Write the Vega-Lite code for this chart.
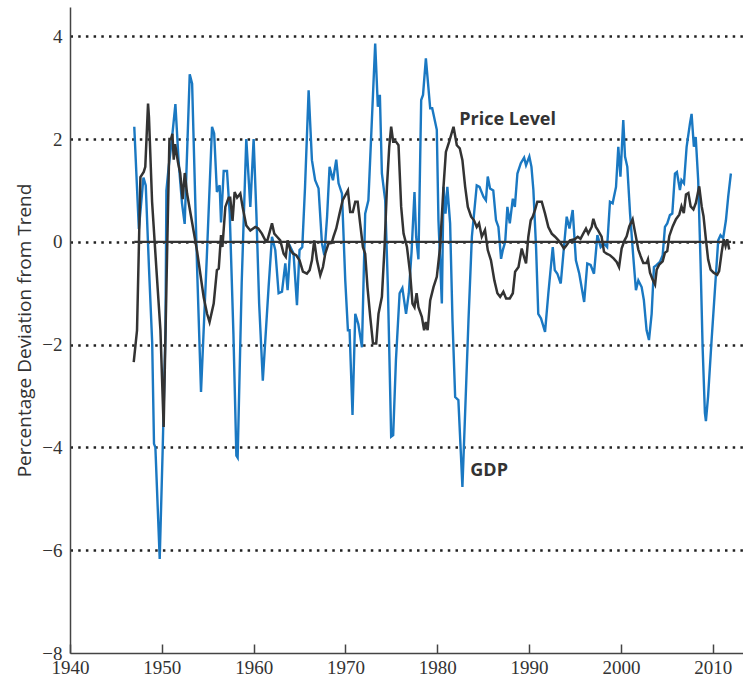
{
  "$schema": "https://vega.github.io/schema/vega-lite/v6.json",
  "autosize": {"type": "none"},
  "width": 673,
  "height": 646,
  "padding": {"left": 70, "top": 7, "right": 0, "bottom": 25},
  "background": "white",
  "config": {"view": {"stroke": null}},
  "datasets": {
    "gdp": [
      {"year": 1947.0, "value": 2.24}, {"year": 1947.5, "value": 0.25}, {"year": 1948.0, "value": 1.25}, {"year": 1948.25, "value": 1.1},
      {"year": 1948.6, "value": -0.5}, {"year": 1948.95, "value": -1.95}, {"year": 1949.15, "value": -3.93}, {"year": 1949.3, "value": -4.0},
      {"year": 1949.77, "value": -6.17}, {"year": 1950.1, "value": -4.0}, {"year": 1950.4, "value": -1.73}, {"year": 1950.5, "value": 1.0},
      {"year": 1950.75, "value": 1.46}, {"year": 1951.1, "value": 2.0}, {"year": 1951.48, "value": 2.68}, {"year": 1951.84, "value": 1.54},
      {"year": 1952.2, "value": 0.75}, {"year": 1952.49, "value": 0.35}, {"year": 1953.04, "value": 3.26}, {"year": 1953.3, "value": 3.08},
      {"year": 1953.84, "value": -0.5}, {"year": 1954.27, "value": -2.92}, {"year": 1954.9, "value": -0.3}, {"year": 1955.47, "value": 2.24},
      {"year": 1955.7, "value": 2.11}, {"year": 1956.0, "value": 0.97}, {"year": 1956.3, "value": 1.1}, {"year": 1956.45, "value": 0.38},
      {"year": 1956.74, "value": 1.38}, {"year": 1957.1, "value": 1.38}, {"year": 1957.4, "value": 0.54}, {"year": 1957.8, "value": -1.8},
      {"year": 1958.12, "value": -4.16}, {"year": 1958.26, "value": -4.2}, {"year": 1958.7, "value": -0.8}, {"year": 1959.2, "value": 2.0},
      {"year": 1959.64, "value": 0.68}, {"year": 1960.0, "value": 2.0}, {"year": 1960.3, "value": 0.55}, {"year": 1960.6, "value": -1.2},
      {"year": 1961.0, "value": -2.7}, {"year": 1961.63, "value": -0.88}, {"year": 1962.0, "value": 0.1}, {"year": 1962.36, "value": -0.16},
      {"year": 1962.72, "value": -1.0}, {"year": 1963.09, "value": -0.97}, {"year": 1963.45, "value": -0.42}, {"year": 1963.7, "value": -0.94},
      {"year": 1964.0, "value": -0.1}, {"year": 1964.35, "value": -0.23}, {"year": 1964.72, "value": -1.23}, {"year": 1965.0, "value": -0.16},
      {"year": 1965.3, "value": -0.1}, {"year": 1965.6, "value": 1.07}, {"year": 1965.99, "value": 2.95}, {"year": 1966.35, "value": 1.59},
      {"year": 1966.7, "value": 1.2}, {"year": 1967.07, "value": 1.04}, {"year": 1967.44, "value": -0.03}, {"year": 1967.7, "value": -0.26},
      {"year": 1968.0, "value": 0.49}, {"year": 1968.27, "value": 1.46}, {"year": 1968.64, "value": 1.2}, {"year": 1969.0, "value": 1.6},
      {"year": 1969.25, "value": 1.14}, {"year": 1969.62, "value": 0.94}, {"year": 1969.98, "value": -0.75}, {"year": 1970.27, "value": -1.72},
      {"year": 1970.45, "value": -1.72}, {"year": 1970.77, "value": -3.37}, {"year": 1971.07, "value": -1.4}, {"year": 1971.4, "value": -1.6},
      {"year": 1971.8, "value": -2.05}, {"year": 1972.15, "value": 0.55}, {"year": 1972.5, "value": 0.81}, {"year": 1972.88, "value": 2.37},
      {"year": 1973.24, "value": 3.86}, {"year": 1973.53, "value": 2.63}, {"year": 1973.75, "value": 2.86}, {"year": 1973.97, "value": 1.33},
      {"year": 1974.33, "value": 0.81}, {"year": 1974.62, "value": -0.87}, {"year": 1974.98, "value": -3.79}, {"year": 1975.2, "value": -3.76},
      {"year": 1975.5, "value": -2.3}, {"year": 1975.9, "value": -1.0}, {"year": 1976.2, "value": -0.9}, {"year": 1976.6, "value": -1.4},
      {"year": 1976.9, "value": -1.0}, {"year": 1977.2, "value": -0.2}, {"year": 1977.52, "value": 0.97}, {"year": 1977.7, "value": 0.1},
      {"year": 1977.95, "value": -0.34}, {"year": 1978.25, "value": 2.76}, {"year": 1978.45, "value": 2.86}, {"year": 1978.76, "value": 3.57},
      {"year": 1979.23, "value": 2.6}, {"year": 1979.45, "value": 2.6}, {"year": 1979.95, "value": 2.18}, {"year": 1980.13, "value": 0.42},
      {"year": 1980.5, "value": -1.2}, {"year": 1980.68, "value": 1.07}, {"year": 1980.9, "value": 0.55}, {"year": 1981.1, "value": 1.07},
      {"year": 1981.4, "value": 0.36}, {"year": 1981.66, "value": -1.53}, {"year": 1981.95, "value": -3.02}, {"year": 1982.3, "value": -3.08},
      {"year": 1982.74, "value": -4.77}, {"year": 1983.0, "value": -3.5}, {"year": 1983.4, "value": -1.53}, {"year": 1983.77, "value": 0.1},
      {"year": 1984.3, "value": 1.1}, {"year": 1984.6, "value": 1.07}, {"year": 1985.03, "value": 0.88}, {"year": 1985.3, "value": 0.81},
      {"year": 1985.5, "value": 1.27}, {"year": 1985.75, "value": 1.04}, {"year": 1986.1, "value": 1.0}, {"year": 1986.4, "value": 0.42},
      {"year": 1986.66, "value": 0.29}, {"year": 1986.95, "value": -0.33}, {"year": 1987.14, "value": -0.16}, {"year": 1987.4, "value": 0.0},
      {"year": 1987.64, "value": 0.68}, {"year": 1987.9, "value": 0.36}, {"year": 1988.23, "value": 0.84}, {"year": 1988.45, "value": 0.68},
      {"year": 1988.73, "value": 1.33}, {"year": 1989.1, "value": 1.53}, {"year": 1989.46, "value": 1.64}, {"year": 1989.67, "value": 1.49},
      {"year": 1990.03, "value": 1.66}, {"year": 1990.26, "value": 1.46}, {"year": 1990.47, "value": 1.01}, {"year": 1990.76, "value": -0.1},
      {"year": 1991.0, "value": -1.4}, {"year": 1991.3, "value": -1.49}, {"year": 1991.74, "value": -1.75}, {"year": 1992.1, "value": -1.0},
      {"year": 1992.58, "value": -0.1}, {"year": 1992.8, "value": -0.55}, {"year": 1993.08, "value": -0.62}, {"year": 1993.45, "value": -0.81},
      {"year": 1993.8, "value": -0.1}, {"year": 1994.1, "value": 0.49}, {"year": 1994.4, "value": 0.26}, {"year": 1994.75, "value": 0.62},
      {"year": 1995.1, "value": -0.36}, {"year": 1995.47, "value": -0.62}, {"year": 1996.0, "value": -1.17}, {"year": 1996.34, "value": -0.42},
      {"year": 1996.7, "value": -0.45}, {"year": 1997.07, "value": -0.62}, {"year": 1997.44, "value": 0.13}, {"year": 1997.8, "value": -0.1},
      {"year": 1998.16, "value": -0.03}, {"year": 1998.5, "value": -0.1}, {"year": 1998.81, "value": 0.78}, {"year": 1999.1, "value": 0.75},
      {"year": 1999.47, "value": 1.07}, {"year": 1999.72, "value": 1.85}, {"year": 1999.95, "value": 1.27}, {"year": 2000.26, "value": 2.37},
      {"year": 2000.45, "value": 1.66}, {"year": 2000.7, "value": 1.46}, {"year": 2001.0, "value": 0.55}, {"year": 2001.35, "value": -0.29},
      {"year": 2001.64, "value": -0.94}, {"year": 2001.9, "value": -0.75}, {"year": 2002.26, "value": -0.88}, {"year": 2002.5, "value": -1.13},
      {"year": 2002.8, "value": -1.72}, {"year": 2003.06, "value": -1.91}, {"year": 2003.35, "value": -1.4}, {"year": 2003.6, "value": -0.49},
      {"year": 2003.9, "value": -0.45}, {"year": 2004.25, "value": -0.39}, {"year": 2004.55, "value": -0.26}, {"year": 2004.8, "value": 0.29},
      {"year": 2005.05, "value": 0.36}, {"year": 2005.34, "value": 0.52}, {"year": 2005.6, "value": 0.55}, {"year": 2005.89, "value": 1.33},
      {"year": 2006.1, "value": 1.36}, {"year": 2006.43, "value": 1.01}, {"year": 2006.6, "value": 1.2}, {"year": 2006.87, "value": 1.14},
      {"year": 2007.16, "value": 1.85}, {"year": 2007.52, "value": 2.3}, {"year": 2007.7, "value": 2.49}, {"year": 2007.95, "value": 1.85},
      {"year": 2008.15, "value": 2.04}, {"year": 2008.42, "value": 1.2}, {"year": 2008.68, "value": -0.42}, {"year": 2008.9, "value": -2.04},
      {"year": 2009.15, "value": -3.33}, {"year": 2009.26, "value": -3.49}, {"year": 2009.5, "value": -3.0}, {"year": 2009.88, "value": -1.91},
      {"year": 2010.24, "value": -0.94}, {"year": 2010.6, "value": 0.03}, {"year": 2010.85, "value": 0.13}, {"year": 2011.14, "value": 0.07},
      {"year": 2011.44, "value": 0.42}, {"year": 2011.69, "value": 0.88}, {"year": 2011.98, "value": 1.33}
    ],
    "price": [
      {"year": 1946.94, "value": -2.34}, {"year": 1947.3, "value": -1.72}, {"year": 1947.67, "value": 1.26}, {"year": 1948.03, "value": 1.36},
      {"year": 1948.2, "value": 1.46}, {"year": 1948.5, "value": 2.69}, {"year": 1948.6, "value": 2.43}, {"year": 1948.94, "value": 0.78},
      {"year": 1949.4, "value": -0.5}, {"year": 1949.85, "value": -1.72}, {"year": 1950.2, "value": -3.6}, {"year": 1950.57, "value": -0.27},
      {"year": 1950.83, "value": 2.0}, {"year": 1951.0, "value": 2.0}, {"year": 1951.15, "value": 2.1}, {"year": 1951.3, "value": 1.6},
      {"year": 1951.45, "value": 1.9}, {"year": 1951.77, "value": 1.54}, {"year": 1952.0, "value": 1.34}, {"year": 1952.27, "value": 0.83},
      {"year": 1952.5, "value": 1.34}, {"year": 1952.75, "value": 0.94}, {"year": 1953.1, "value": 0.58}, {"year": 1953.47, "value": 0.2},
      {"year": 1953.84, "value": -0.18}, {"year": 1954.2, "value": -0.63}, {"year": 1954.56, "value": -1.08}, {"year": 1954.93, "value": -1.4},
      {"year": 1955.2, "value": -1.56}, {"year": 1955.65, "value": -1.2}, {"year": 1956.0, "value": -0.55}, {"year": 1956.2, "value": -0.52},
      {"year": 1956.45, "value": 0.13}, {"year": 1956.6, "value": -0.1}, {"year": 1956.92, "value": 0.68}, {"year": 1957.28, "value": 0.86},
      {"year": 1957.45, "value": 0.86}, {"year": 1957.7, "value": 0.41}, {"year": 1957.93, "value": 0.97}, {"year": 1958.2, "value": 0.86},
      {"year": 1958.55, "value": 0.94}, {"year": 1958.8, "value": 0.68}, {"year": 1959.2, "value": 0.32}, {"year": 1959.64, "value": 0.22},
      {"year": 1960.18, "value": 0.29}, {"year": 1960.5, "value": 0.26}, {"year": 1960.9, "value": 0.16}, {"year": 1961.27, "value": 0.03},
      {"year": 1961.5, "value": 0.03}, {"year": 1961.7, "value": 0.16}, {"year": 1962.0, "value": 0.36}, {"year": 1962.25, "value": 0.16},
      {"year": 1962.55, "value": 0.1}, {"year": 1962.9, "value": 0.03}, {"year": 1963.27, "value": -0.23}, {"year": 1963.5, "value": -0.29},
      {"year": 1963.7, "value": 0.03}, {"year": 1964.0, "value": -0.16}, {"year": 1964.3, "value": -0.23}, {"year": 1964.64, "value": -0.26},
      {"year": 1965.0, "value": -0.36}, {"year": 1965.37, "value": -0.58}, {"year": 1965.8, "value": -0.62}, {"year": 1966.1, "value": -0.55},
      {"year": 1966.35, "value": -0.36}, {"year": 1966.6, "value": 0.03}, {"year": 1966.9, "value": -0.36}, {"year": 1967.26, "value": -0.65},
      {"year": 1967.55, "value": -0.49}, {"year": 1967.8, "value": -0.23}, {"year": 1968.16, "value": -0.03}, {"year": 1968.5, "value": -0.02},
      {"year": 1968.7, "value": 0.1}, {"year": 1969.0, "value": 0.26}, {"year": 1969.36, "value": 0.55}, {"year": 1969.7, "value": 0.81},
      {"year": 1970.27, "value": 1.0}, {"year": 1970.52, "value": 0.58}, {"year": 1970.8, "value": 0.58}, {"year": 1971.07, "value": 0.78},
      {"year": 1971.33, "value": 0.78}, {"year": 1971.6, "value": 0.36}, {"year": 1971.9, "value": -0.1}, {"year": 1972.15, "value": -0.23},
      {"year": 1972.4, "value": -0.88}, {"year": 1972.7, "value": -1.46}, {"year": 1973.0, "value": -1.98}, {"year": 1973.35, "value": -1.98},
      {"year": 1973.6, "value": -1.4}, {"year": 1973.97, "value": -1.07}, {"year": 1974.26, "value": -0.1}, {"year": 1974.52, "value": 1.07},
      {"year": 1974.77, "value": 1.85}, {"year": 1974.98, "value": 2.24}, {"year": 1975.2, "value": 1.95}, {"year": 1975.5, "value": 1.95},
      {"year": 1975.78, "value": 1.88}, {"year": 1976.07, "value": 0.68}, {"year": 1976.33, "value": 0.16}, {"year": 1976.7, "value": -0.1},
      {"year": 1977.05, "value": -0.62}, {"year": 1977.3, "value": -1.2}, {"year": 1977.52, "value": -1.27}, {"year": 1977.75, "value": -1.0},
      {"year": 1977.95, "value": -1.27}, {"year": 1978.32, "value": -1.46}, {"year": 1978.57, "value": -1.72}, {"year": 1978.75, "value": -1.56},
      {"year": 1978.95, "value": -1.72}, {"year": 1979.23, "value": -1.14}, {"year": 1979.59, "value": -0.88}, {"year": 1979.95, "value": -0.68},
      {"year": 1980.31, "value": -0.1}, {"year": 1980.68, "value": 1.07}, {"year": 1980.94, "value": 1.75}, {"year": 1981.3, "value": 1.95},
      {"year": 1981.77, "value": 2.24}, {"year": 1982.13, "value": 1.88}, {"year": 1982.45, "value": 1.82}, {"year": 1982.74, "value": 1.59},
      {"year": 1983.04, "value": 1.07}, {"year": 1983.33, "value": 0.68}, {"year": 1983.69, "value": 0.49}, {"year": 1984.0, "value": 0.42},
      {"year": 1984.3, "value": 0.29}, {"year": 1984.55, "value": 0.36}, {"year": 1984.85, "value": 0.1}, {"year": 1985.2, "value": 0.23},
      {"year": 1985.5, "value": -0.16}, {"year": 1985.85, "value": -0.36}, {"year": 1986.22, "value": -0.75}, {"year": 1986.55, "value": -1.0},
      {"year": 1986.85, "value": -1.07}, {"year": 1987.2, "value": -0.97}, {"year": 1987.5, "value": -1.1}, {"year": 1987.9, "value": -1.1},
      {"year": 1988.23, "value": -1.0}, {"year": 1988.48, "value": -0.58}, {"year": 1988.85, "value": -0.49}, {"year": 1989.2, "value": -0.13},
      {"year": 1989.45, "value": -0.29}, {"year": 1989.67, "value": -0.42}, {"year": 1989.92, "value": 0.1}, {"year": 1990.18, "value": 0.42},
      {"year": 1990.4, "value": 0.49}, {"year": 1990.65, "value": 0.62}, {"year": 1990.9, "value": 0.78}, {"year": 1991.38, "value": 0.78},
      {"year": 1991.74, "value": 0.55}, {"year": 1992.1, "value": 0.29}, {"year": 1992.47, "value": 0.16}, {"year": 1992.83, "value": 0.1},
      {"year": 1993.2, "value": 0.03}, {"year": 1993.45, "value": -0.03}, {"year": 1993.8, "value": -0.13}, {"year": 1994.1, "value": -0.06},
      {"year": 1994.45, "value": 0.03}, {"year": 1994.97, "value": 0.05}, {"year": 1995.3, "value": 0.1}, {"year": 1995.6, "value": 0.06},
      {"year": 1995.9, "value": 0.16}, {"year": 1996.2, "value": 0.26}, {"year": 1996.45, "value": 0.16}, {"year": 1996.82, "value": 0.29},
      {"year": 1997.0, "value": 0.45}, {"year": 1997.27, "value": 0.29}, {"year": 1997.5, "value": 0.23}, {"year": 1997.9, "value": 0.1},
      {"year": 1998.16, "value": -0.19}, {"year": 1998.45, "value": -0.23}, {"year": 1998.81, "value": -0.26}, {"year": 1999.2, "value": -0.32},
      {"year": 1999.54, "value": -0.39}, {"year": 1999.8, "value": -0.49}, {"year": 2000.08, "value": -0.13}, {"year": 2000.4, "value": 0.03},
      {"year": 2000.63, "value": 0.11}, {"year": 2000.91, "value": 0.3}, {"year": 2001.28, "value": 0.44}, {"year": 2001.55, "value": 0.18},
      {"year": 2001.9, "value": -0.15}, {"year": 2002.15, "value": -0.28}, {"year": 2002.44, "value": -0.41}, {"year": 2002.8, "value": -0.41},
      {"year": 2002.95, "value": -0.34}, {"year": 2003.17, "value": -0.6}, {"year": 2003.45, "value": -0.73}, {"year": 2003.72, "value": -0.83},
      {"year": 2003.9, "value": -0.54}, {"year": 2004.18, "value": -0.44}, {"year": 2004.55, "value": -0.38}, {"year": 2004.8, "value": -0.21},
      {"year": 2005.05, "value": -0.18}, {"year": 2005.27, "value": 0.11}, {"year": 2005.64, "value": 0.3}, {"year": 2006.0, "value": 0.44},
      {"year": 2006.36, "value": 0.53}, {"year": 2006.6, "value": 0.69}, {"year": 2006.85, "value": 0.56}, {"year": 2007.09, "value": 0.92},
      {"year": 2007.35, "value": 0.95}, {"year": 2007.6, "value": 0.69}, {"year": 2007.9, "value": 0.63}, {"year": 2008.17, "value": 0.76},
      {"year": 2008.53, "value": 1.08}, {"year": 2008.8, "value": 0.69}, {"year": 2009.0, "value": 0.5}, {"year": 2009.26, "value": 0.05},
      {"year": 2009.5, "value": -0.34}, {"year": 2009.77, "value": -0.54}, {"year": 2010.1, "value": -0.6}, {"year": 2010.49, "value": -0.64},
      {"year": 2010.7, "value": -0.57}, {"year": 2010.97, "value": -0.21}, {"year": 2011.2, "value": 0.05}, {"year": 2011.4, "value": -0.08},
      {"year": 2011.58, "value": 0.05}, {"year": 2011.8, "value": -0.15}
    ],
    "zero": [{"start": 1947.0, "end": 2012.0, "value": 0}],
    "labels": [
      {"year": 1982.4, "value": 2.37, "text": "Price Level"},
      {"year": 1983.6, "value": -4.45, "text": "GDP"}
    ]
  },
  "encoding": {
    "x": {
      "field": "year", "type": "quantitative",
      "scale": {"domain": [1940, 2013.3], "nice": false, "zero": false},
      "axis": {
        "title": null, "values": [1940, 1950, 1960, 1970, 1980, 1990, 2000, 2010],
        "format": "d", "grid": false,
        "domainColor": "#444", "domainWidth": 1.5,
        "tickColor": "#444", "tickWidth": 1.5, "tickSize": -9,
        "labelPadding": 14, "labelFont": "Liberation Serif", "labelFontSize": 19,
        "labelColor": "#333", "labelFlush": false
      }
    },
    "y": {
      "field": "value", "type": "quantitative",
      "scale": {"domain": [-8, 4.57], "nice": false, "zero": false},
      "axis": {
        "title": "Percentage Deviation from Trend",
        "titleFont": "Open Sans", "titleFontSize": 19, "titleFontWeight": "normal",
        "titleColor": "#333", "titlePadding": 7,
        "values": [-8, -6, -4, -2, 0, 2, 4],
        "ticks": false, "labelPadding": 8,
        "labelFont": "Liberation Serif", "labelFontSize": 19, "labelColor": "#333",
        "domainColor": "#444", "domainWidth": 1.5,
        "grid": true, "gridColor": "#222", "gridWidth": 2.5, "gridDash": [2.5, 5.2],
        "gridOpacity": {"condition": {"test": "datum.value === -8", "value": 0}, "value": 1}
      }
    }
  },
  "layer": [
    {
      "data": {"name": "gdp"},
      "mark": {"type": "line", "color": "#1a78c2", "strokeWidth": 2.4}
    },
    {
      "data": {"name": "zero"},
      "mark": {"type": "rule", "color": "#333", "strokeWidth": 2.2},
      "encoding": {
        "x": {"field": "start", "type": "quantitative"},
        "x2": {"field": "end"},
        "y": {"field": "value", "type": "quantitative"}
      }
    },
    {
      "data": {"name": "price"},
      "mark": {"type": "line", "color": "#333333", "strokeWidth": 2.5}
    },
    {
      "data": {"name": "labels"},
      "mark": {"type": "text", "align": "left", "baseline": "middle", "font": "Open Sans", "fontWeight": "bold", "fontSize": 18, "color": "#333"},
      "encoding": {"text": {"field": "text"}}
    }
  ]
}
